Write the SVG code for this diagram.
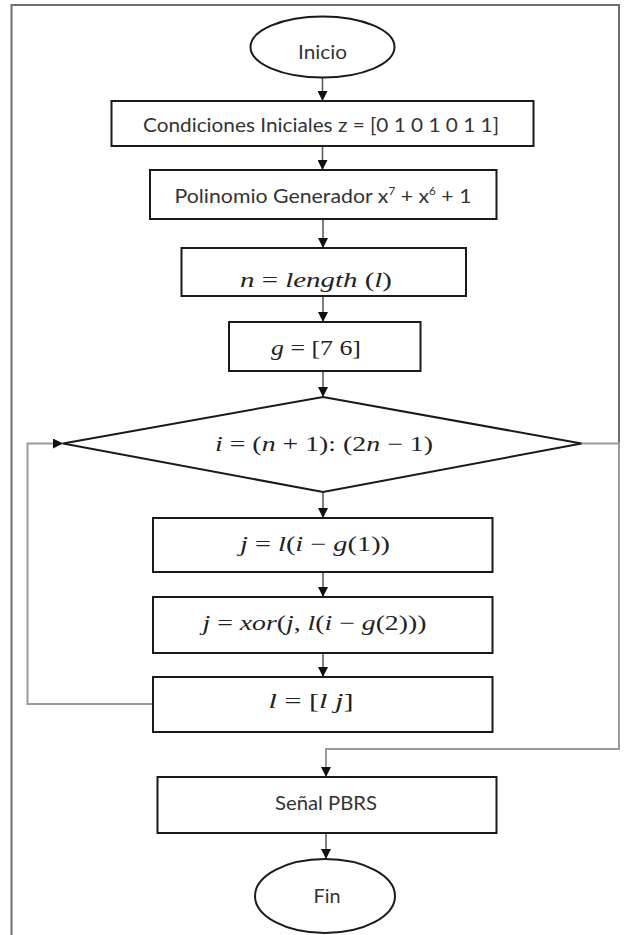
<svg xmlns="http://www.w3.org/2000/svg" width="630" height="935" viewBox="0 0 630 935">
<style>
.bg{fill:#fff}
.frame{fill:none;stroke:#6e6e6e;stroke-width:2}
.shape{fill:#fff;stroke:#1a1a1a;stroke-width:2}
.conn{fill:none;stroke:#555;stroke-width:1.5}
.loop{fill:none;stroke:#9a9a9a;stroke-width:2}
.t{font-family:Lato,"Open Sans","Liberation Sans",sans-serif;font-size:20px;fill:#333;text-anchor:middle}
.m{font-family:"Liberation Serif","DejaVu Serif",serif;font-size:21px;fill:#222;text-anchor:middle}
.i{font-style:italic}
</style>
<defs>
<marker id="ah" viewBox="0 0 10 10" refX="10" refY="5" markerWidth="10" markerHeight="10" markerUnits="userSpaceOnUse" orient="auto">
<path d="M0,0 L10,5 L0,10 Z" fill="#111"/>
</marker>
</defs>
<rect class="bg" x="0" y="0" width="630" height="935"/>
<path class="frame" d="M11.5,935 V5 H619 V443"/>

<g id="connectors">
<line class="conn" x1="322.5" y1="78" x2="322.5" y2="101" marker-end="url(#ah)"/>
<line class="conn" x1="322.5" y1="146" x2="322.5" y2="170" marker-end="url(#ah)"/>
<line class="conn" x1="323" y1="219" x2="323" y2="248" marker-end="url(#ah)"/>
<line class="conn" x1="323" y1="296" x2="323" y2="322" marker-end="url(#ah)"/>
<line class="conn" x1="323" y1="371" x2="323" y2="397" marker-end="url(#ah)"/>
<line class="conn" x1="323" y1="492" x2="323" y2="518" marker-end="url(#ah)"/>
<line class="conn" x1="323" y1="572" x2="323" y2="597" marker-end="url(#ah)"/>
<line class="conn" x1="323" y1="653" x2="323" y2="677" marker-end="url(#ah)"/>
<path class="loop" d="M153,704 H27.5 V443.5 H63" marker-end="url(#ah)"/>
<path class="loop" d="M581.5,443.5 H619 V749 H326 V777" marker-end="url(#ah)"/>
<line class="conn" x1="326" y1="833" x2="326" y2="859" marker-end="url(#ah)"/>
</g>

<g id="inicio">
<ellipse class="shape" cx="322.5" cy="47" rx="72" ry="30.5"/>
<text class="t" x="322.5" y="59" textLength="49" lengthAdjust="spacingAndGlyphs">Inicio</text>
</g>

<g id="condiciones">
<rect class="shape" x="111.5" y="101" width="422" height="45"/>
<text class="t" x="321" y="132" textLength="356" lengthAdjust="spacingAndGlyphs">Condiciones Iniciales z = [0 1 0 1 0 1 1]</text>
</g>

<g id="polinomio">
<rect class="shape" x="150" y="170" width="346.5" height="49"/>
<text class="t" x="323" y="203" textLength="297" lengthAdjust="spacingAndGlyphs">Polinomio Generador x<tspan dy="-8" font-size="11">7</tspan><tspan dy="8"> + x</tspan><tspan dy="-8" font-size="11">6</tspan><tspan dy="8"> + 1</tspan></text>
</g>

<g id="length">
<rect class="shape" x="181.5" y="248" width="284.5" height="48"/>
<text class="m" x="316" y="287" textLength="152" lengthAdjust="spacingAndGlyphs"><tspan class="i">n</tspan> =  <tspan class="i">length</tspan> (<tspan class="i">l</tspan>)</text>
</g>

<g id="g76">
<rect class="shape" x="229" y="322" width="191.5" height="49"/>
<text class="m" x="316" y="355" textLength="90" lengthAdjust="spacingAndGlyphs"><tspan class="i">g</tspan> = [7 6]</text>
</g>

<g id="decision">
<polygon class="shape" points="323,397 581.5,443.5 323,492 63,443.5"/>
<text class="m" x="324" y="451" textLength="218" lengthAdjust="spacingAndGlyphs"><tspan class="i">i</tspan> =  (<tspan class="i">n</tspan> + 1): (2<tspan class="i">n</tspan> − 1)</text>
</g>

<g id="j1">
<rect class="shape" x="153" y="518" width="339.5" height="54"/>
<text class="m" x="315" y="551" textLength="150" lengthAdjust="spacingAndGlyphs"><tspan class="i">j</tspan> = <tspan class="i">l</tspan>(<tspan class="i">i</tspan> − <tspan class="i">g</tspan>(1))</text>
</g>

<g id="j2">
<rect class="shape" x="153" y="597" width="339.5" height="56"/>
<text class="m" x="314.5" y="630" textLength="224" lengthAdjust="spacingAndGlyphs"><tspan class="i">j</tspan> = <tspan class="i">xor</tspan>(<tspan class="i">j</tspan>, <tspan class="i">l</tspan>(<tspan class="i">i</tspan> − <tspan class="i">g</tspan>(2)))</text>
</g>

<g id="lj">
<rect class="shape" x="153" y="677" width="339.5" height="55"/>
<text class="m" x="311" y="708" textLength="85" lengthAdjust="spacingAndGlyphs"><tspan class="i">l</tspan> = [<tspan class="i">l j</tspan>]</text>
</g>

<g id="senal">
<rect class="shape" x="157.5" y="777" width="339" height="56"/>
<text class="t" x="326" y="810" textLength="102" lengthAdjust="spacingAndGlyphs">Señal PBRS</text>
</g>

<g id="fin">
<ellipse class="shape" cx="325" cy="896" rx="70" ry="37"/>
<text class="t" x="327" y="903" textLength="27" lengthAdjust="spacingAndGlyphs">Fin</text>
</g>
</svg>
